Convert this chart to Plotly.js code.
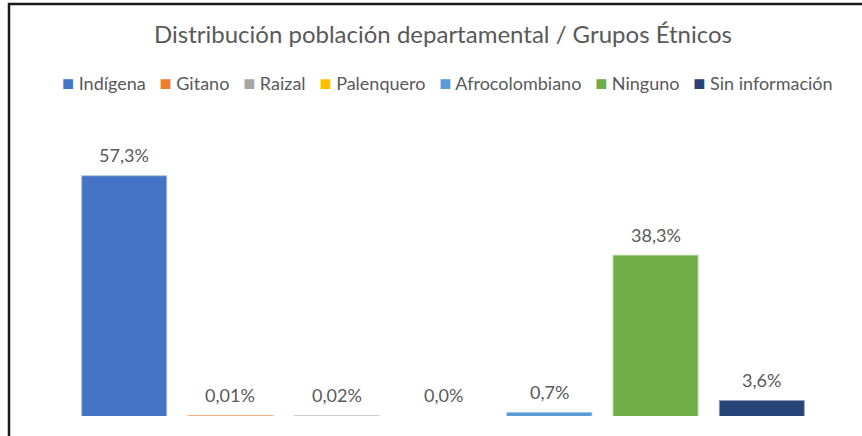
<!DOCTYPE html>
<html>
<head>
<meta charset="utf-8">
<script src="https://cdn.plot.ly/plotly-3.0.1.min.js"></script>
<style>
html,body{margin:0;padding:0;background:#fff;}
#chart{width:862px;height:436px;}
</style>
</head>
<body>
<div id="chart"></div>
<script>
const categories = ["Indígena","Gitano","Raizal","Palenquero","Afrocolombiano","Ninguno","Sin información"];
const values = [57.3, 0.01, 0.02, 0.0, 0.7, 38.3, 3.6];
const labels = ["57,3%","0,01%","0,02%","0,0%","0,7%","38,3%","3,6%"];
const colors = ["#4472C4","#ED7D31","#A5A5A5","#FFC000","#5B9BD5","#70AD47","#264478"];
const edgeColors = ["rgba(68,114,196,0.5)","rgba(237,125,49,0.6)","rgba(165,165,165,0.55)","rgba(255,192,0,0)","rgba(91,155,213,0.6)","rgba(112,173,71,0.5)","rgba(38,68,120,0.5)"];

const FONT = "Lato, 'Open Sans', sans-serif";
const GREY = "#595959";

const traces = categories.map((c,i)=>({
  type:"bar",
  name:c,
  x:[c],
  y:[values[i]],
  width:0.79,
  marker:{color:colors[i], line:{color:edgeColors[i], width: values[i] > 0 ? 2 : 0}},
  hoverinfo:"name+y",
  showlegend:false
}));

const annotations = categories.map((c,i)=>({
  x:c, y:values[i], xref:"x", yref:"y",
  text:labels[i], showarrow:false,
  yanchor:"bottom", yshift:8,
  font:{family:FONT, size:18, color:GREY}
}));

// legend row (built from the category names and colours)
const SP = "\u00a0";
const legendText = categories.map((c,i)=>
  "<span style='color:" + colors[i] + ";font-size:20px'>■</span>" + SP + c
).join(SP+SP+SP);
annotations.push({
  xref:"paper", yref:"paper", x:(447-71)/744, y:(416-82)/272,
  xanchor:"center", yanchor:"middle", showarrow:false,
  text:legendText,
  font:{family:FONT, size:18, color:GREY}
});

const layout = {
  width:862, height:436,
  margin:{l:71, r:47, t:144, b:20},
  paper_bgcolor:"#fff", plot_bgcolor:"#fff",
  barmode:"overlay",
  title:{text:"Distribución población departamental / Grupos Étnicos",
         font:{family:FONT, size:24, color:GREY},
         x:(443)/862, xanchor:"center", xref:"container", y:1-35/436, yanchor:"middle"},
  showlegend:false,
  xaxis:{type:"category", categoryorder:"array", categoryarray:categories, visible:false, range:[-0.5,6.5]},
  yaxis:{range:[0,65], visible:false},
  annotations:annotations,
  shapes:[
    {type:"line", xref:"paper", yref:"paper", x0:(9-71)/744, x1:(9-71)/744, y0:(416-3)/272, y1:(416-440)/272, line:{color:"#1a1a1a", width:2.5}},
    {type:"line", xref:"paper", yref:"paper", x0:(8-71)/744, x1:(870-71)/744, y0:(416-4)/272, y1:(416-4)/272, line:{color:"#1a1a1a", width:2.5}}
  ]
};

Plotly.newPlot("chart", traces, layout, {displayModeBar:false});
</script>
</body>
</html>
